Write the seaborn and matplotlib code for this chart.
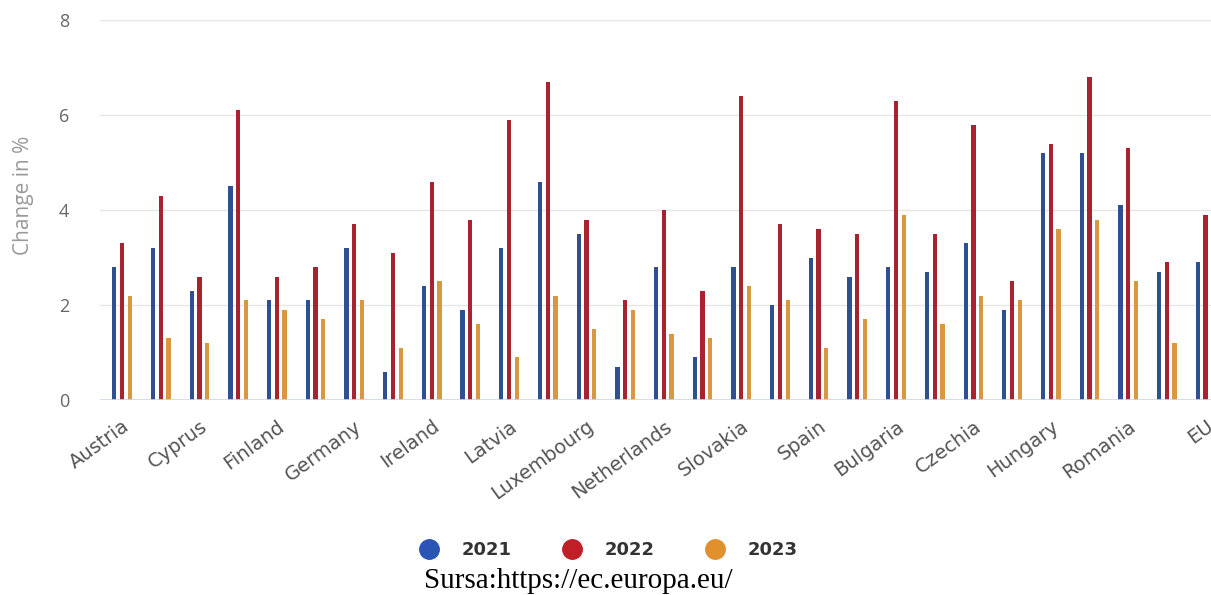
import matplotlib
matplotlib.use("Agg")
import matplotlib.pyplot as plt
from matplotlib.lines import Line2D
from matplotlib.transforms import ScaledTranslation
import seaborn as sns
import pandas as pd

countries = ["Austria", "Belgium", "Cyprus", "Estonia", "Finland", "France", "Germany",
             "Greece", "Ireland", "Italy", "Latvia", "Lithuania", "Luxembourg", "Malta",
             "Netherlands", "Portugal", "Slovakia", "Slovenia", "Spain", "Euro area",
             "Bulgaria", "Croatia", "Czechia", "Denmark", "Hungary", "Poland", "Romania",
             "Sweden", "EU"]
v2021 = [2.8, 3.2, 2.3, 4.5, 2.1, 2.1, 3.2, 0.6, 2.4, 1.9, 3.2, 4.6, 3.5, 0.7,
         2.8, 0.9, 2.8, 2.0, 3.0, 2.6, 2.8, 2.7, 3.3, 1.9, 5.2, 5.2, 4.1, 2.7, 2.9]
v2022 = [3.3, 4.3, 2.6, 6.1, 2.6, 2.8, 3.7, 3.1, 4.6, 3.8, 5.9, 6.7, 3.8, 2.1,
         4.0, 2.3, 6.4, 3.7, 3.6, 3.5, 6.3, 3.5, 5.8, 2.5, 5.4, 6.8, 5.3, 2.9, 3.9]
v2023 = [2.2, 1.3, 1.2, 2.1, 1.9, 1.7, 2.1, 1.1, 2.5, 1.6, 0.9, 2.2, 1.5, 1.9,
         1.4, 1.3, 2.4, 2.1, 1.1, 1.7, 3.9, 1.6, 2.2, 2.1, 3.6, 3.8, 2.5, 1.2, 1.9]
years = ["2021", "2022", "2023"]
bar_colors = ["#2f5090", "#a8232f", "#d9983f"]
legend_colors = ["#2a55b5", "#c01f28", "#e0902d"]
y_ticks = [0, 2, 4, 6, 8]

rows = []
for yr, vals in zip(years, [v2021, v2022, v2023]):
    for c, v in zip(countries, vals):
        rows.append({"country": c, "year": yr, "value": v})
df = pd.DataFrame(rows)

sns.set_theme(style="white")
plt.rcParams["font.family"] = ["DejaVu Sans"]

W, H = 1211, 595
fig = plt.figure(figsize=(W / 100, H / 100), dpi=100)
ax = fig.add_axes([100 / W, 1 - 400 / H, 1 - 100 / W, 380 / H])

sns.barplot(data=df, x="country", y="value", hue="year", order=countries,
            hue_order=years, palette=bar_colors, width=0.6, gap=0.45,
            legend=False, ax=ax, errorbar=None, saturation=1, linewidth=0)

ax.set_ylim(0, 8)
ax.set_xlim(-0.57, 28.14)
ax.set_yticks(y_ticks)
ax.set_yticklabels([str(t) for t in y_ticks], color="#666666", fontsize=13,
                   family="Open Sans")
for yv in y_ticks[1:]:
    ax.axhline(yv, color="#e6e6e6", lw=1, zorder=0)
ax.axhline(0, color="#ccd6eb", lw=1.2, zorder=3)

ax.set_xticks(range(0, len(countries), 2))
ax.set_xticklabels(countries[::2], rotation=36, ha="right", rotation_mode="anchor",
                   color="#555555", fontsize=14)
shift = ScaledTranslation(5 / 100, 0, fig.dpi_scale_trans)
for lab in ax.get_xticklabels():
    lab.set_transform(lab.get_transform() + shift)
ax.tick_params(axis="both", length=0)
ax.tick_params(axis="y", pad=22)
ax.tick_params(axis="x", pad=12)
for s in ax.spines.values():
    s.set_visible(False)
ax.set_xlabel("")
ax.set_ylabel("")
fig.text(23 / W, 1 - 195 / H, "Change in %", rotation=90, ha="center", va="center",
         color="#999999", fontsize=15, family="Open Sans")

handles = [Line2D([0], [0], marker="o", color="none", markerfacecolor=c,
                  markeredgecolor=c, markersize=14) for c in legend_colors]
fig.legend(handles, years, loc="center", bbox_to_anchor=(609 / W, 1 - 550 / H),
           ncol=3, frameon=False, handlelength=1.0, handletextpad=1.3,
           columnspacing=2.85, borderpad=0, borderaxespad=0,
           prop={"weight": "bold", "size": 13}, labelcolor="#333333")

fig.text(578 / W, 1 - 588 / H, "Sursa:https://ec.europa.eu/", ha="center",
         va="baseline", fontsize=21, family="Liberation Serif", color="black")

fig.savefig("out.png", dpi=100)
